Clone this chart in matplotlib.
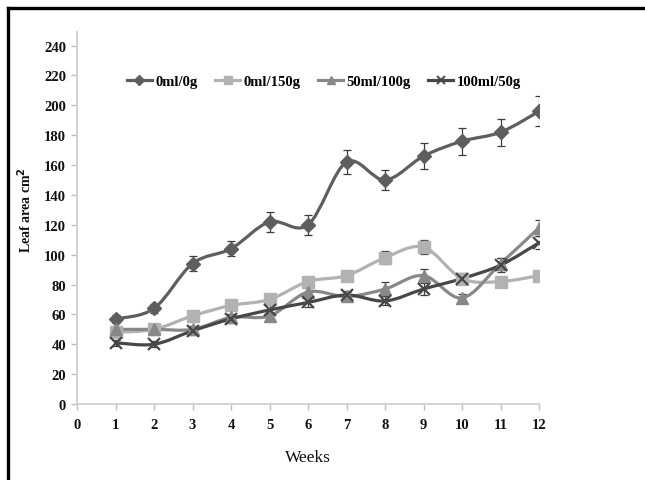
import numpy as np
import matplotlib
matplotlib.use("Agg")
import matplotlib.pyplot as plt
from matplotlib.path import Path
from matplotlib.patches import PathPatch
from matplotlib.lines import Line2D

weeks = [1, 2, 3, 4, 5, 6, 7, 8, 9, 10, 11, 12]

labels = ["0ml/0g", "0ml/150g", "50ml/100g", "100ml/50g"]

leaf_0_0 = [57, 64, 94, 104, 122, 120, 162, 150, 166, 176, 182, 196]
err_0_0 = [2.5, 3, 5, 5, 6.5, 6.5, 8, 7, 8.5, 9, 9, 10]

leaf_0_150 = [48, 50, 59, 66, 70, 82, 86, 98, 105, 84, 82, 86]
err_0_150 = [2, 2, 2.5, 2.5, 2.5, 3, 3, 4.5, 4.5, 3, 3, 2.5]

leaf_50_100 = [50, 50, 50, 58, 59, 75, 72, 77, 86, 71, 94, 118]
err_50_100 = [2, 2, 2, 2, 2, 3, 3, 4.5, 4.5, 3, 4, 5.5]

leaf_100_50 = [41, 40, 49, 57, 63, 68, 73, 69, 77, 84, 93, 108]
err_100_50 = [2, 2, 2.5, 2.5, 3, 3, 3, 3, 4, 3.5, 4.5, 4.5]

colors = ["#5e5e5e", "#b2b2b2", "#888888", "#474747"]
markers = ["D", "s", "^", "x"]
msizes = [7.5, 8.5, 8.5, 8]

series = [
    (leaf_0_0, err_0_0),
    (leaf_0_150, err_0_150),
    (leaf_50_100, err_50_100),
    (leaf_100_50, err_100_50),
]

SERIF = ["Liberation Serif", "DejaVu Serif"]


def smooth_path(x, y):
    """Cubic Bezier path through the points (Catmull-Rom style tangents)."""
    pts = np.column_stack([x, y]).astype(float)
    n = len(pts)
    verts = [pts[0]]
    codes = [Path.MOVETO]
    for i in range(n - 1):
        p_prev = pts[i - 1] if i > 0 else pts[i]
        p0 = pts[i]
        p1 = pts[i + 1]
        p_next = pts[i + 2] if i + 2 < n else pts[i + 1]
        c1 = p0 + (p1 - p_prev) / 6.0
        c2 = p1 - (p_next - p0) / 6.0
        verts += [c1, c2, p1]
        codes += [Path.CURVE4] * 3
    return Path(verts, codes)


fig = plt.figure(figsize=(6.45, 4.81), dpi=100)
ax = fig.add_axes([0.1194, 0.158, 0.7163, 0.773])

for (vals, errs), c, m, ms in zip(series, colors, markers, msizes):
    ax.add_patch(PathPatch(smooth_path(weeks, vals), facecolor="none",
                           edgecolor=c, lw=2.3, capstyle="round",
                           joinstyle="round", zorder=3))
    ax.errorbar(weeks, vals, yerr=errs, fmt="none", ecolor="#3c3c3c",
                elinewidth=0.9, capsize=3, capthick=0.9, zorder=4)
    if m == "x":
        ax.plot(weeks, vals, linestyle="none", marker=m, ms=ms, mew=1.6,
                color=c, zorder=5)
    else:
        ax.plot(weeks, vals, linestyle="none", marker=m, ms=ms,
                mfc=c, mec=c, zorder=5)

ax.set_xlim(0, 12)
ax.set_ylim(0, 249)
ax.set_xticks(range(0, 13))
ax.set_yticks(range(0, 241, 20))

for side in ("top", "right"):
    ax.spines[side].set_visible(False)
for side in ("left", "bottom"):
    ax.spines[side].set_color("#cfcfcf")
    ax.spines[side].set_linewidth(1.3)

ax.tick_params(axis="both", direction="out", length=4, width=1,
               color="#bdbdbd", pad=4)
for lab in ax.get_xticklabels() + ax.get_yticklabels():
    lab.set_fontfamily(SERIF)
    lab.set_fontweight("bold")
    lab.set_fontsize(10.5)
    lab.set_color("#111111")
ax.tick_params(axis="x", pad=6)

ax.set_xlabel("Weeks", fontfamily=SERIF, fontsize=12.5, labelpad=13,
              color="#111111")
fig.text(0.039, 0.563, "Leaf area cm$^\\mathbf{2}$", rotation=90,
         ha="center", va="center", fontfamily=SERIF, fontweight="bold",
         fontsize=10, color="#111111")

handles = []
for c, m, ms, lab in zip(colors, markers, msizes, labels):
    if m == "x":
        h = Line2D([], [], color=c, lw=2.3, marker=m, ms=6, mew=1.4)
    else:
        h = Line2D([], [], color=c, lw=2.3, marker=m, ms=5.5, mfc=c, mec=c)
    handles.append(h)
leg = fig.legend(handles, labels, ncol=4, frameon=False,
                 loc="center left", bbox_to_anchor=(0.176, 0.829),
                 handlelength=1.75, handletextpad=0.2, columnspacing=1.2,
                 prop={"family": SERIF, "weight": "bold", "size": 10.5})

# page frame on the left and top
fig.add_artist(Line2D([0.0117, 0.0117], [0.0, 0.9803], color="black",
                      lw=2.4, transform=fig.transFigure))
fig.add_artist(Line2D([0.0117, 1.0], [0.9803, 0.9803], color="black",
                      lw=2.4, transform=fig.transFigure))

fig.savefig("out.png", dpi=100)
